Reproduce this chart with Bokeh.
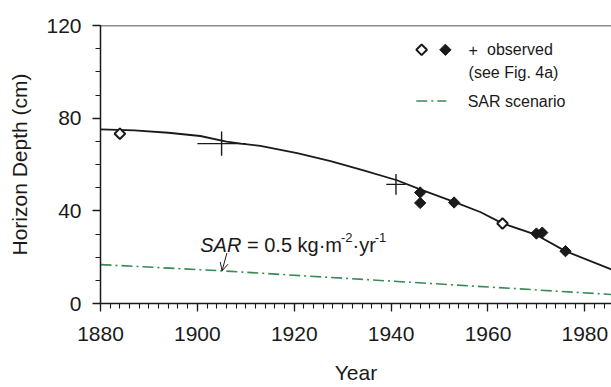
import numpy as np
from bokeh.plotting import figure
from bokeh.models import Range1d, Span, Label, Arrow, OpenHead, FixedTicker
from bokeh.embed import file_html
from bokeh.resources import INLINE

# ---------------- data ----------------
curve_year = [1880, 1887, 1894, 1900.6, 1906, 1909, 1913, 1920.6, 1927.5, 1934.3, 1941.2, 1946, 1953,
              1958.4, 1963, 1970, 1976, 1985.5]
curve_depth = [75.2, 74.7, 73.7, 72.3, 69.9, 69.0, 68.0, 64.9, 61.5, 57.5, 53.2, 49.3, 43.9,
               39.5, 34.6, 29.6, 22.6, 14.7]

sar_year = [1880, 1905, 1985.5]
sar_depth = [16.8, 14.1, 3.9]

open_year = [1884, 1963]
open_depth = [73.3, 34.5]

filled_year = [1946, 1946, 1953, 1970, 1971.2, 1976]
filled_depth = [47.9, 43.4, 43.6, 30.2, 30.6, 22.6]

cross_year = [1905, 1941]
cross_depth = [69.0, 51.4]
cross_xerr = [5.0, 2.0]
cross_yerr = [5.2, 4.5]

x_ticks = [1880, 1900, 1920, 1940, 1960, 1980]
x_minor = list(range(1880, 1986, 2))
y_ticks = [0, 40, 80, 120]
y_minor = list(range(0, 121, 10))

FONT = "Liberation Sans"
GREEN = "#3a8a55"
INK = "#1a1a1a"

p = figure(width=611, height=387, output_backend="svg", toolbar_location=None,
           x_range=Range1d(1880, 1985.5), y_range=Range1d(0, 120),
           min_border_left=100, min_border_right=0, min_border_top=25, min_border_bottom=84)
p.outline_line_color = None
p.xgrid.visible = False
p.ygrid.visible = False
p.background_fill_color = "white"
p.border_fill_color = "white"

for ax in (p.xaxis[0], p.yaxis[0]):
    ax.axis_line_color = INK
    ax.axis_line_width = 1.5
    ax.major_tick_line_color = INK
    ax.minor_tick_line_color = INK
    ax.major_tick_line_width = 1.3
    ax.minor_tick_line_width = 1.1
    ax.major_tick_in = 0
    ax.major_tick_out = 8
    ax.minor_tick_in = 0
    ax.minor_tick_out = 5
    ax.major_label_text_font = FONT
    ax.major_label_text_font_size = "21px"
    ax.major_label_text_color = INK
    ax.axis_label_text_font = FONT
    ax.axis_label_text_font_size = "21px"
    ax.axis_label_text_font_style = "normal"
    ax.axis_label_text_color = INK

p.xaxis.ticker = FixedTicker(ticks=x_ticks, minor_ticks=x_minor)
p.yaxis.ticker = FixedTicker(ticks=y_ticks, minor_ticks=y_minor)
p.xaxis.axis_label = "Year"
p.yaxis.axis_label = "Horizon Depth (cm)"
p.xaxis.major_label_standoff = 15
p.xaxis.axis_label_standoff = 17
p.yaxis.major_label_standoff = 11
p.yaxis.axis_label_standoff = 12

# top border line
p.add_layout(Span(location=120, dimension="width", line_color=INK, line_width=1.5))

# SAR scenario line
p.line(sar_year, sar_depth, line_color=GREEN, line_width=1.6, line_dash="11 4 2 4")

# model curve
p.line(curve_year, curve_depth, line_color=INK, line_width=1.8)

# crosses (+) with extents
cy = np.array(cross_year, dtype=float)
cd = np.array(cross_depth, dtype=float)
cxe = np.array(cross_xerr, dtype=float)
cye = np.array(cross_yerr, dtype=float)
p.segment(x0=cy - cxe, x1=cy + cxe, y0=cd, y1=cd, line_color=INK, line_width=1.4)
p.segment(x0=cy, x1=cy, y0=cd - cye, y1=cd + cye, line_color=INK, line_width=1.4)

# diamonds
p.scatter(filled_year, filled_depth, marker="square", angle=np.pi / 4, size=8,
          fill_color=INK, line_color=INK, line_width=1)
p.scatter(open_year, open_depth, marker="square", angle=np.pi / 4, size=7.5,
          fill_color="white", line_color=INK, line_width=2)

# annotation: SAR = 0.5 kg·m-2·yr-1 (pieces for italics and superscripts)
ann_x, ann_y = 1900.6, 25.1
pieces = [("SAR", 0, 0, "20px", "italic"),
          ("= 0.5 kg·m", 46.7, 0, "20px", "normal"),
          ("-2", 140.6, 8, "13px", "normal"),
          ("·yr", 152.2, 0, "20px", "normal"),
          ("-1", 174.4, 8, "13px", "normal")]
for txt, dx, dy, fs, st in pieces:
    p.add_layout(Label(x=ann_x, y=ann_y, x_offset=dx, y_offset=dy, text=txt, text_font=FONT,
                       text_font_size=fs, text_font_style=st, text_color=INK,
                       text_baseline="alphabetic"))
p.add_layout(Arrow(end=OpenHead(size=8, line_width=1, line_color=INK),
                   x_start=1906.1, y_start=21.8, x_end=1905.1, y_end=14.1,
                   line_width=1, line_color=INK))

# legend (layout positions)
leg_x_open, leg_x_fill, leg_x_plus, leg_x_text = 1946.3, 1951.2, 1956.0, 1959.8
leg_y1, leg_y2, leg_y3 = 109.5, 99.9, 87.4
p.scatter([leg_x_open], [leg_y1], marker="square", angle=np.pi / 4, size=7.5,
          fill_color="white", line_color=INK, line_width=2)
p.scatter([leg_x_fill], [leg_y1], marker="square", angle=np.pi / 4, size=8,
          fill_color=INK, line_color=INK, line_width=1)
p.add_layout(Label(x=leg_x_plus, y=leg_y1, text="+", text_font=FONT, text_font_size="16px",
                   text_color=INK, text_baseline="middle"))
p.add_layout(Label(x=leg_x_text, y=leg_y1, text="observed", text_font=FONT, text_font_size="16px",
                   text_color=INK, text_baseline="middle"))
p.add_layout(Label(x=leg_x_plus, y=leg_y2, text="(see Fig. 4a)", text_font=FONT, text_font_size="16px",
                   text_color=INK, text_baseline="middle"))
p.line([1945.2, 1951.4], [leg_y3, leg_y3], line_color=GREEN, line_width=1.6, line_dash="11 4 2 4")
p.add_layout(Label(x=1955.8, y=leg_y3, text="SAR scenario", text_font=FONT, text_font_size="16px",
                   text_color=INK, text_baseline="middle"))

open("out.html", "w").write(file_html(p, INLINE))
